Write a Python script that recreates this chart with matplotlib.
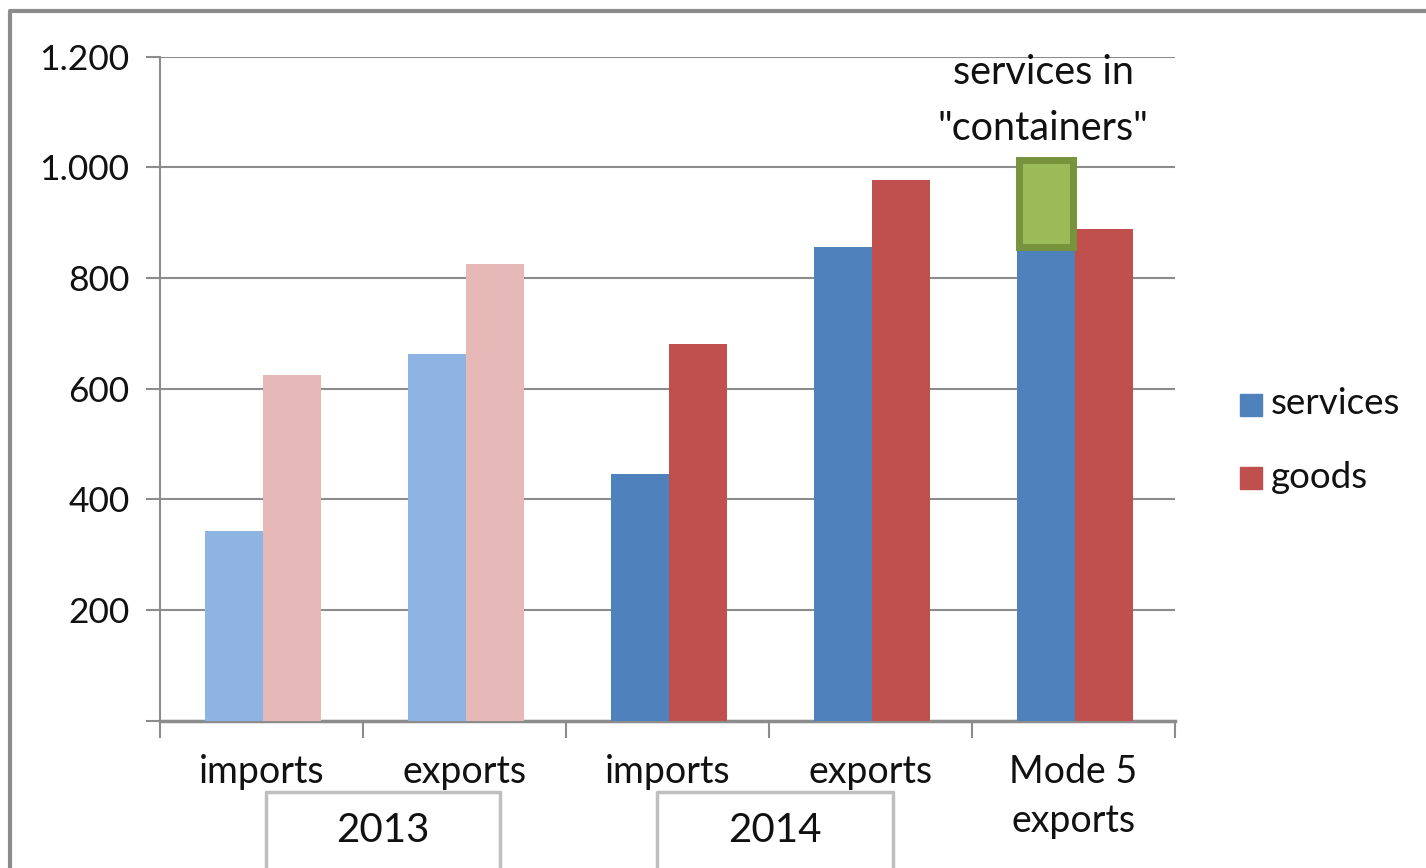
import matplotlib.pyplot as plt
from matplotlib.patches import Rectangle
from matplotlib.lines import Line2D
from matplotlib.ticker import FuncFormatter, FixedLocator
import numpy as np

plt.rcParams['font.family'] = ['Lato', 'DejaVu Sans']

# data
categories = ["imports", "exports", "imports", "exports", "Mode 5\nexports"]
years = ["2013", "2014"]
services = [342, 663, 446, 856, 856]
goods = [625, 825, 681, 977, 888]
containers = [0, 0, 0, 0, 157]   # extra services shipped "in containers"

svc_col = ["#8EB4E3", "#8EB4E3", "#4F81BD", "#4F81BD", "#4F81BD"]
gds_col = ["#E6B9B8", "#E6B9B8", "#C0504D", "#C0504D", "#C0504D"]

TXT = "#111111"

fig = plt.figure(figsize=(14.26, 8.68), dpi=100)
ax = fig.add_axes([0.1122, 0.1697, 0.824 - 0.1122, 0.9347 - 0.1697])

x = np.arange(len(categories))
w = 0.286
off = 0.007
ax.bar(x - w / 2 + off, services, w, color=svc_col, zorder=3)
ax.bar(x + w / 2 + off, goods, w, color=gds_col, zorder=3)

# green "containers" block on top of mode 5 services
i = len(categories) - 1
ax.bar(x[i] - w / 2 + off, containers[i], w * 0.93, bottom=services[i],
       color="#9BBB59", edgecolor="#77933C", linewidth=5, zorder=4)
ax.text(3.85, 1121, 'services in\n"containers"', ha="center", va="center",
        fontsize=28.5, linespacing=1.65, color=TXT)

ax.set_xlim(-0.5, len(categories) - 0.5)
ax.set_ylim(0, 1200)
ax.yaxis.set_major_locator(FixedLocator(np.arange(0, 1201, 200)))
ax.yaxis.set_major_formatter(FuncFormatter(lambda v, p: "" if v == 0 else f"{int(v):,}".replace(",", ".")))
ax.grid(axis="y", color="#8C8C8C", linewidth=1.5, zorder=0)

for s in ["top", "right"]:
    ax.spines[s].set_visible(False)
for s in ["left", "bottom"]:
    ax.spines[s].set_color("#8C8C8C")
ax.spines["left"].set_linewidth(1.5)
ax.spines["bottom"].set_linewidth(2.5)

ax.tick_params(axis="y", length=10, width=1.5, color="#8C8C8C", labelsize=25.5, pad=12,
               labelcolor=TXT)
ax.xaxis.set_major_locator(FixedLocator(np.arange(-0.5, len(categories), 1.0)))
ax.xaxis.set_minor_locator(FixedLocator(x))
ax.tick_params(axis="x", which="major", length=12, width=1.5, color="#8C8C8C", labelbottom=False)
ax.tick_params(axis="x", which="minor", length=0, labelsize=27, pad=24, labelcolor=TXT)
ax.set_xticklabels(categories, minor=True, linespacing=1.45)

# year boxes under the category labels
def fx(px):
    return px / 1426

def fy(py):
    return 1 - py / 868

for yr, (x0, x1) in zip(years, [(266, 500), (657, 893)]):
    fig.add_artist(Line2D([fx(x0), fx(x0), fx(x1), fx(x1)], [0, fy(792), fy(792), 0],
                          color="#BFBFBF", linewidth=2.5))
    fig.text(fx((x0 + x1) / 2), fy(830), yr, ha="center", va="center", fontsize=29,
             color=TXT)

# legend
fig.add_artist(Rectangle((fx(1240), fy(416)), fx(22), 22 / 868, color="#4F81BD"))
fig.text(fx(1271), fy(404), "services", va="center", fontsize=26.5, color=TXT)
fig.add_artist(Rectangle((fx(1240), fy(489)), fx(22), 22 / 868, color="#C0504D"))
fig.text(fx(1271), fy(477), "goods", va="center", fontsize=26.5, color=TXT)

# outer chart frame (top and left only visible)
fig.add_artist(Line2D([fx(10), fx(10), 1], [0, fy(11), fy(11)], color="#8C8C8C", linewidth=3))

fig.savefig("out.png", dpi=100)
